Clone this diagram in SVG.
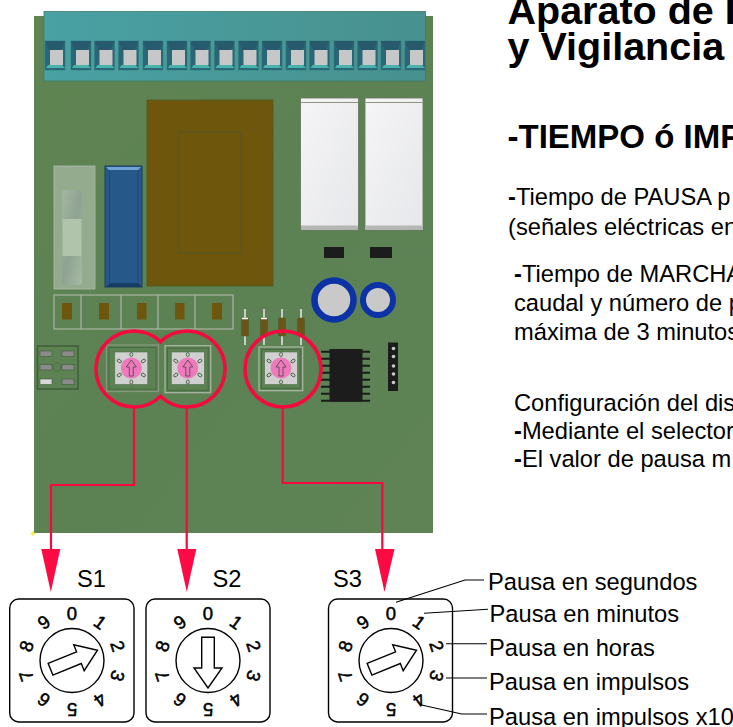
<svg xmlns="http://www.w3.org/2000/svg" width="733" height="727" viewBox="0 0 733 727">
<style>
text{font-family:"Liberation Sans",Arial,sans-serif;fill:#000}
.t1{font-size:39.500px;font-weight:700}
.t2{font-size:33px;font-weight:700}
.b{font-size:23.700px}
.l{font-size:23.700px}
.h{font-weight:700}
.d{font-size:18.500px;text-anchor:middle;stroke:#000;stroke-width:.5}
.dial{fill:#fff;stroke:#000;stroke-width:1.400}
.ptr{fill:#fff;stroke:#000;stroke-width:1.400}
.lead{fill:none;stroke:#000;stroke-width:1.100}
.red{fill:none;stroke:#f5093f;stroke-width:2.200}
.ring{fill:none;stroke:#f5093f;stroke-width:3.600}
.head{fill:#fb0a43}
.frame{fill:none;stroke:#a9b6a1;stroke-width:1.300}
.frame2{fill:none;stroke:#4a6b44;stroke-width:1}
.pad{fill:#8b8b8b;stroke:#3f5a3a;stroke-width:.6}
</style>
<defs>
<linearGradient id="gB" x1="0" y1="0" x2="1" y2="1"><stop offset="0" stop-color="#5f8451"/><stop offset=".5" stop-color="#5c8153"/><stop offset="1" stop-color="#5e8354"/></linearGradient>
<linearGradient id="gT" x1="0" y1="0" x2="1" y2="0"><stop offset="0" stop-color="#4aa1a3"/><stop offset="1" stop-color="#47918f"/></linearGradient>
<linearGradient id="gR" x1="0" y1="0" x2="1" y2="1"><stop offset="0" stop-color="#f5f5f7"/><stop offset="1" stop-color="#e6e7ea"/></linearGradient>
<linearGradient id="gF" x1="0" y1="0" x2="1" y2="1"><stop offset="0" stop-color="#a3b6a0"/><stop offset=".5" stop-color="#8ea392"/><stop offset="1" stop-color="#a8baa4"/></linearGradient>
<filter id="soft" x="-2%" y="-2%" width="104%" height="104%"><feGaussianBlur stdDeviation=".45"/></filter>
<g id="tooth">
<rect x="0" y="0" width="20" height="29" fill="#2a6674" stroke="#357b7e" stroke-width=".6"/>
<path d="M0 0H20L16 9H4Z" fill="#265a6c"/>
<rect x="5" y="9" width="13" height="15" fill="#c6c7c7"/>
<path d="M1 27L3 24H17L20 27Z" fill="#4cb3ad"/>
</g>
<g id="rotary">
<rect x="-16.500" y="-16" width="33" height="32.500" fill="#d0d0d0" stroke="#4f6f48" stroke-width=".6"/>
<g fill="#d0d0d0" stroke="#46603f" stroke-width=".9">
<ellipse cx="0" cy="-13.500" rx="1.500" ry="2"/><ellipse cx="0" cy="14" rx="1.500" ry="2"/>
<ellipse cx="-12" cy="-7" rx="2.300" ry="1.500" transform="rotate(35 -12 -7)"/><ellipse cx="12" cy="-7" rx="2.300" ry="1.500" transform="rotate(-35 12 -7)"/>
<ellipse cx="-12" cy="7" rx="2.300" ry="1.500" transform="rotate(-35 -12 7)"/><ellipse cx="12" cy="7" rx="2.300" ry="1.500" transform="rotate(35 12 7)"/>
</g>
<circle r="10.500" fill="#ee7abb"/>
<path d="M-2 8V-1H-5L0 -8L5 -1H2V8Z" fill="#ee7abb" stroke="#5a4a5a" stroke-width=".9"/>
</g>
<path id="ptr" d="M-6.300 -23.200H6.300V7.500H14L0 27.500L-14 7.500H-6.300Z"/>
<g id="digits">
<text class="d" x="0" y="-41.500">0</text>
<text class="d" x="0" y="-41.500" transform="rotate(36)">1</text>
<text class="d" x="0" y="-41.500" transform="rotate(72)">2</text>
<text class="d" x="0" y="-41.500" transform="rotate(108)">3</text>
<text class="d" x="0" y="-41.500" transform="rotate(144)">4</text>
<text class="d" x="0" y="-41.500" transform="rotate(180)">5</text>
<text class="d" x="0" y="-41.500" transform="rotate(216)">6</text>
<text class="d" x="0" y="-41.500" transform="rotate(252)">7</text>
<text class="d" x="0" y="-41.500" transform="rotate(288)">8</text>
<text class="d" x="0" y="-41.500" transform="rotate(324)">9</text>
</g>
</defs>
<rect width="733" height="727" fill="#fff"/>

<g id="board" filter="url(#soft)">
<rect x="34" y="16" width="399" height="517" fill="url(#gB)"/>
<g id="terminal-block">
<rect x="44" y="11.500" width="381.500" height="69.500" fill="url(#gT)" stroke="#3f7a68" stroke-width=".8"/>
<use href="#tooth" x="45" y="41"/><use href="#tooth" x="71" y="41"/><use href="#tooth" x="94.500" y="41"/><use href="#tooth" x="118.500" y="41"/>
<use href="#tooth" x="143" y="41"/><use href="#tooth" x="167" y="41"/><use href="#tooth" x="190.500" y="41"/><use href="#tooth" x="214.500" y="41"/>
<use href="#tooth" x="238.500" y="41"/><use href="#tooth" x="262" y="41"/><use href="#tooth" x="286" y="41"/><use href="#tooth" x="309.500" y="41"/>
<use href="#tooth" x="334" y="41"/><use href="#tooth" x="357.500" y="41"/><use href="#tooth" x="381" y="41"/><use href="#tooth" x="405" y="41"/>
</g>
<g id="transformer">
<rect x="147" y="100" width="126" height="186" fill="#6e570f" stroke="#4f5b28" stroke-width=".8"/>
<rect x="179" y="132" width="62" height="121" fill="none" stroke="#55582a" stroke-width="1"/>
</g>
<g id="relays">
<rect x="300.500" y="98" width="58" height="132" fill="url(#gR)" stroke="#6a7a62" stroke-width=".9"/>
<rect x="365" y="98" width="58" height="132" fill="url(#gR)" stroke="#6a7a62" stroke-width=".9"/>
<path d="M301 102.500H358M365.500 102.500H422.500" stroke="#8a9484" stroke-width="1"/>
<rect x="301" y="225.500" width="57" height="4.500" fill="#b5b7b5"/><rect x="365.500" y="225.500" width="57" height="4.500" fill="#b5b7b5"/>
<rect x="324" y="247" width="20" height="11" fill="#1c1c1c"/><rect x="370" y="247" width="22" height="11" fill="#1c1c1c"/>
</g>
<g id="fuse">
<rect x="54" y="166" width="41" height="123" fill="#95ab8e" stroke="#aebba8" stroke-width=".8"/>
<rect x="62" y="190" width="20" height="95" rx="3" fill="url(#gF)"/>
<rect x="62.500" y="219" width="19" height="37" fill="#b0c3ab"/>
</g>
<g id="capacitor-blue">
<rect x="105" y="166" width="37" height="121" fill="#27588a" stroke="#1e3f5c" stroke-width="1"/>
<path d="M106 167H141L138 170H109Z" fill="#6fa4d6"/>
<path d="M106 287L110 283H138L142 287Z" fill="#173c63"/>
<path d="M109.500 170V283M138 170V283" stroke="#1d4672" stroke-width="1"/>
</g>
<g id="connector-row">
<rect x="54" y="295" width="179" height="34" fill="none" stroke="#a9b6a1" stroke-width="1.200"/>
<path d="M81 295V329M121 295V329M158 295V329M195 295V329" stroke="#a9b6a1" stroke-width="1.200"/>
<g fill="#6e570f"><rect x="62" y="303" width="10" height="16.500"/><rect x="99" y="303" width="10" height="16.500"/><rect x="137" y="303" width="9.500" height="16.500"/><rect x="175" y="303" width="9.500" height="16.500"/><rect x="212" y="303" width="10" height="16.500"/></g>
</g>
<g id="dip">
<rect x="37.500" y="346" width="40.500" height="43" fill="none" stroke="#3f5a3a" stroke-width="1.400"/>
<rect class="pad" x="40" y="351" width="12" height="5.500"/><rect class="pad" x="62" y="351" width="12" height="5.500"/>
<rect class="pad" x="40" y="364.500" width="12" height="5.500"/><rect class="pad" x="62" y="364.500" width="12" height="5.500"/>
<rect class="pad" x="40" y="379" width="12" height="5.500" style="fill:#d8d8d8"/><rect class="pad" x="62" y="379" width="12" height="5.500"/>
<circle cx="57" cy="367" r="4" fill="none" stroke="#3f5a3a" stroke-width=".8" stroke-dasharray="1.500 1"/>
</g>
<g id="resistors">
<g stroke="#c9cdc5" stroke-width="2"><path d="M245 309V345M264 309V345M282 309V345M301 309V345"/></g>
<g fill="#6b5518" stroke="#4d5a2a" stroke-width=".5"><rect x="241.500" y="318" width="7" height="18" rx="1"/><rect x="260.500" y="318" width="7" height="18" rx="1"/><rect x="278.500" y="318" width="7" height="18" rx="1"/><rect x="297.500" y="318" width="7" height="18" rx="1"/></g>
<path d="M242 318.500H248M261 318.500H267" stroke="#fff" stroke-width="1.500"/>
</g>
<g id="electrolytics">
<circle cx="334" cy="300" r="19.500" fill="#c9c9c9" stroke="#0a33a6" stroke-width="6.500"/>
<circle cx="378" cy="300" r="15" fill="#c9c9c9" stroke="#0a33a6" stroke-width="6"/>
</g>
<g id="ic">
<path d="M321 351.700H370M321 358.700H370M321 365.700H370M321 372.700H370M321 379.700H370M321 386.700H370M321 393.700H370M321 400.700H370" stroke="#1c1c1c" stroke-width="2"/>
<rect x="329.500" y="349" width="33" height="52.500" fill="#1c1c1c"/>
</g>
<g id="header">
<rect x="388" y="342.500" width="10" height="48.500" fill="#1c1c1c"/>
<g fill="#c9c9c9"><circle cx="393.500" cy="348.500" r="1.800"/><circle cx="393.500" cy="356.500" r="1.800"/><circle cx="393.500" cy="366" r="1.800"/><circle cx="393.500" cy="374" r="1.800"/><circle cx="393.500" cy="382.500" r="1.800"/></g>
</g>
<g id="rotary-s1">
<rect class="frame" x="106.500" y="345" width="52" height="46.500" style="stroke:#839a7a"/>
<rect class="frame2" x="109" y="347.500" width="47" height="41.500"/>
<use href="#rotary" x="131.300" y="368"/>
</g>
<g id="rotary-s2">
<rect class="frame" x="165" y="345.700" width="45.700" height="47"/>
<rect class="frame2" x="167.500" y="348.200" width="40.700" height="42"/>
<use href="#rotary" x="187.800" y="368"/>
</g>
<g id="rotary-s3">
<rect class="frame" x="259" y="347" width="43.700" height="43.700"/>
<rect class="frame2" x="261.500" y="349.500" width="38.700" height="38.700"/>
<use href="#rotary" x="281" y="368"/>
</g>
</g>
<path id="mark" d="M33 530.500L34 532.500L36 533.500L34 534.500L33 536.500L32 534.500L30 533.500L32 532.500Z" fill="#f2ee3c"/>

<g id="dial-s1">
<rect class="dial" x="9.700" y="599" width="124.300" height="123" rx="9"/>
<circle class="dial" cx="72" cy="660.500" r="32"/>
<use href="#ptr" class="ptr" transform="translate(72 660.500) rotate(-112)"/>
<use href="#digits" x="72" y="661"/>
<text class="l" x="77" y="586.500">S1</text>
</g>
<g id="dial-s2">
<rect class="dial" x="146" y="599" width="124" height="123" rx="9"/>
<circle class="dial" cx="208" cy="660.500" r="32"/>
<use href="#ptr" class="ptr" transform="translate(208 660.500)"/>
<use href="#digits" x="208" y="661"/>
<text class="l" x="212.500" y="586.500">S2</text>
</g>
<g id="dial-s3">
<rect class="dial" x="328.500" y="599" width="124" height="123" rx="9"/>
<circle class="dial" cx="391" cy="660.500" r="32"/>
<use href="#ptr" class="ptr" transform="translate(391 660.500) rotate(-112)"/>
<use href="#digits" x="391" y="661"/>
<text class="l" x="333" y="586.500">S3</text>
</g>

<g id="connectors">
<path class="ring" d="M160.500 341.800A38 38 0 1 0 160.500 396.200A38 38 0 1 0 160.500 341.800Z"/>
<circle class="ring" cx="283" cy="369" r="38"/>
<path class="red" d="M134 408V485H51V549"/>
<path class="red" d="M186.700 408V549"/>
<path class="red" d="M282.700 408V483H382.300V549"/>
<path class="head" d="M41.300 549H60.300L50.800 592Z"/>
<path class="head" d="M177.300 549H196.300L186.800 592Z"/>
<path class="head" d="M375 549H394.500L384.500 592Z"/>
<path class="lead" d="M396 602.300L465 580H484"/>
<path class="lead" d="M424 613.300L488 609.300"/>
<path class="lead" d="M446 643.700H487"/>
<path class="lead" d="M446 678H487"/>
<path class="lead" d="M421.700 705L461.700 714H487"/>
</g>

<g id="labels">
<text class="l" x="488" y="589.500">Pausa en segundos</text>
<text class="l" x="489.500" y="621.500">Pausa en minutos</text>
<text class="l" x="489" y="655.700">Pausa en horas</text>
<text class="l" x="489" y="690">Pausa en impulsos</text>
<text class="l" x="489" y="725">Pausa en impulsos x10</text>
</g>
<g id="text-block">
<text class="t1" x="507.500" y="23.500">Aparato de I</text>
<text class="t1" x="507.500" y="60">y Vigilancia</text>
<text class="t2" x="507.500" y="148">-TIEMPO ó IMP</text>
<text class="b" x="508" y="205"><tspan class="h">-</tspan>Tiempo de PAUSA p</text>
<text class="b" x="508" y="235">(señales eléctricas en</text>
<text class="b" x="514" y="282"><tspan class="h">-</tspan>Tiempo de MARCHA</text>
<text class="b" x="514" y="311">caudal y número de p</text>
<text class="b" x="514" y="339.500">máxima de 3 minutos</text>
<text class="b" x="514" y="411">Configuración del dis</text>
<text class="b" x="514" y="438.500"><tspan class="h">-</tspan>Mediante el selector</text>
<text class="b" x="514" y="467"><tspan class="h">-</tspan>El valor de pausa m</text>
</g>
</svg>
